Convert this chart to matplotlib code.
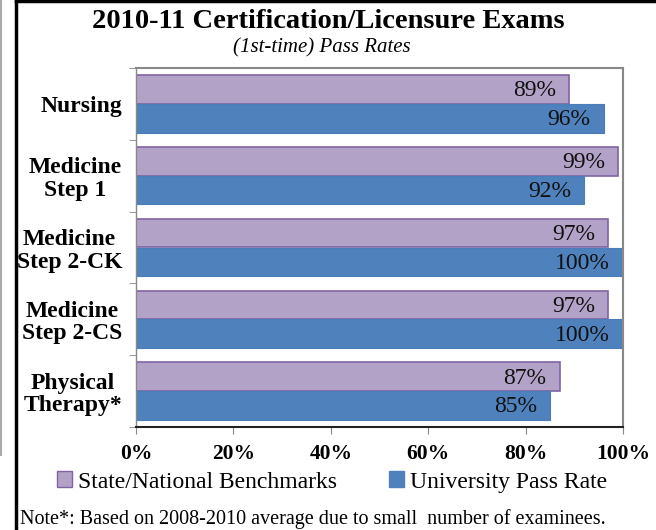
import matplotlib
matplotlib.use("Agg")
import matplotlib.pyplot as plt
from matplotlib.lines import Line2D
from matplotlib.patches import Patch
import numpy as np

categories = ["Nursing", "Medicine\nStep 1", "Medicine\nStep 2-CK", "Medicine\nStep 2-CS", "Physical\nTherapy*"]
benchmark = [89, 99, 97, 97, 87]
university = [96, 92, 100, 100, 85]
xticks = [0, 20, 40, 60, 80, 100]

plt.rcParams['font.family'] = ['Liberation Serif', 'DejaVu Serif']

W, H = 656, 530
fig = plt.figure(figsize=(W/100, H/100), dpi=100)
ax = fig.add_axes([136/W, 1-427/H, (623-136)/W, (427-68)/H])

purple = "#B3A2C7"
purple_edge = "#8064A2"
blue = "#4F81BD"

y = np.arange(len(categories))
h = 0.4
ax.barh(y - h/2, benchmark, height=h, color=purple, edgecolor=purple_edge, linewidth=1.2, label="State/National Benchmarks")
ax.barh(y + h/2, university, height=h, color=blue, edgecolor="#4A7DBA", linewidth=0.8, label="University Pass Rate")

off = 2.7
for i in range(len(categories)):
    ax.text(benchmark[i] - off, y[i] - h/2 + 0.02, f"{benchmark[i]}%", ha="right", va="center", fontsize=17, color="#111111")
    ax.text(university[i] - off, y[i] + h/2 + 0.02, f"{university[i]}%", ha="right", va="center", fontsize=17, color="#111111")

ax.set_xlim(0, 100)
ax.set_ylim(len(categories) - 0.5, -0.5)
ax.set_xticks(xticks)
ax.set_xticklabels([f"{t}%" for t in xticks], fontsize=15.5, fontweight="bold")
ax.set_yticks(y)
ax.set_yticklabels(categories, fontsize=17, fontweight="bold", ha="right", multialignment="center", linespacing=1.1)
ax.tick_params(axis="y", which="major", length=0, pad=10)
ax.set_yticks(np.arange(-0.5, len(categories) + 0.5, 1), minor=True)
ax.tick_params(axis="y", which="minor", length=5, color="#888888", direction="out")
ax.tick_params(axis="x", length=5, color="#888888", direction="out", pad=7)

for s in ["top", "right"]:
    ax.spines[s].set_color("#888888")
    ax.spines[s].set_linewidth(1.5)
ax.spines["left"].set_color("#888888")
ax.spines["left"].set_linewidth(1.0)
ax.spines["bottom"].set_color("#222222")
ax.spines["bottom"].set_linewidth(1.5)

fig.text(328/W, 1-21/H, "2010-11 Certification/Licensure Exams", ha="center", va="center", fontsize=20.5, fontweight="bold")
fig.text(322/W, 1-48/H, "(1st-time) Pass Rates", ha="center", va="center", fontsize=15, style="italic")

handles = [Patch(facecolor=purple, edgecolor=purple_edge, label="State/National Benchmarks"),
           Patch(facecolor=blue, edgecolor=blue, label="University Pass Rate")]
fig.legend(handles=handles, loc="center", bbox_to_anchor=(332/W, 1-482/H), ncol=2, frameon=False,
           fontsize=17, handlelength=0.65, handleheight=0.65, handletextpad=0.25, columnspacing=2.2)

fig.text(20/W, 1-519/H, "Note*: Based on 2008-2010 average due to small  number of examinees.", ha="left", va="center", fontsize=14.5)

fig.add_artist(Line2D([16/W, 16/W], [0, 1], transform=fig.transFigure, color="black", linewidth=2.5))
fig.add_artist(Line2D([16/W, 1], [1-1/H, 1-1/H], transform=fig.transFigure, color="black", linewidth=2.5))
fig.add_artist(Line2D([1/W, 1/W], [1, 1-455/H], transform=fig.transFigure, color="#aaaaaa", linewidth=1.5))

fig.savefig("out.png", dpi=100)
